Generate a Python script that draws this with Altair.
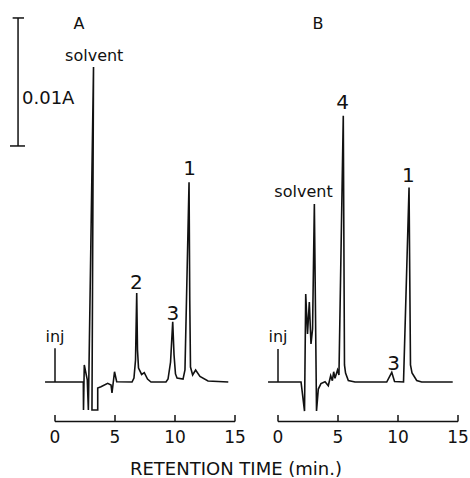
import altair as alt
import pandas as pd

# ---------------- data ----------------
# Chromatogram traces: retention time (min) and absorbance (mAU above baseline)
time_A = [-0.83, 2.36, 2.375, 2.44, 2.69, 2.78, 3.21, 3.08, 3.56, 3.56, 3.83, 4.39,
          4.67, 4.75, 4.96, 5.14, 6.42, 6.58, 6.71, 6.81, 6.875, 6.96, 7.22, 7.44,
          7.71, 8.0, 9.25, 9.42, 9.63, 9.81, 9.92, 10.04, 10.17, 10.67, 10.83, 11.17,
          11.23, 11.29, 11.47, 11.72, 12.08, 12.75, 14.44]
abs_A = [0, 0, -2.19, 1.33, 0.16, -2.19, 24.6, -2.19, -2.19, -0.47, -0.37, -0.10,
         -0.23, -0.86, 0.80, 0.02, 0, 0.31, 1.72, 6.95, 2.5, 1.09, 0.59, 0.73,
         0.23, 0, 0, 0.23, 1.56, 4.71, 2.11, 0.63, 0.31, 0.23, 0.94, 15.6,
         6.4, 1.17, 0.55, 0.94, 0.43, 0.08, 0]

time_B = [-0.83, 1.92, 2.21, 2.31, 2.46, 2.61, 2.75, 2.88, 3.03, 3.21, 3.36, 3.58,
          3.92, 4.19, 4.39, 4.53, 4.64, 4.75, 4.96, 5.08, 5.44, 5.54, 5.63, 5.86,
          6.42, 9.06, 9.48, 9.71, 10.46, 10.92, 11.04, 11.17, 11.56, 11.97, 14.56]
abs_B = [0, 0, -2.27, 6.88, 3.75, 6.25, 2.97, 4.14, 13.9, -2.27, -0.55, -0.12,
         0.02, -0.29, 0.49, 0.10, 0.80, 0.29, 0.94, 0.55, 20.8, 1.33, 0.70, 0.12,
         0, 0, 0.76, 0.04, 0, 15.2, 1.33, 0.70, 0.12, 0, 0]

# Peak number labels
peak_panel = ["A", "A", "A", "B", "B", "B"]
peak_text = ["2", "3", "1", "4", "3", "1"]
peak_time = [6.79, 9.83, 11.21, 5.375, 9.625, 10.86]
peak_abs = [7.27, 4.84, 16.17, 21.33, 0.94, 15.63]

# Solvent labels
solvent_panel = ["A", "B"]
solvent_time = [3.27, 2.125]
solvent_abs = [25.04, 14.45]

# Injection marks
inj_panel = ["A", "B"]
inj_time = [0, 0]
inj_top = [2.63, 2.58]
inj_label_abs = [3.15, 3.1]

# Panel letters
panel_names = ["A", "B"]
panel_letter_time = [2.0, 3.33]
panel_letter_abs = [27.58, 27.58]

# Time axis
tick_values = [0, 5, 10, 15]
axis_abs = -3.09
tick_top_abs = -2.58
tick_label_abs = -4.79
axis_title = "RETENTION TIME (min.)"
axis_title_time = 15.08
axis_title_abs = -7.27

# Absorbance scale bar (0.01 A = 10 mAU)
bar_time = -3.08
bar_low = 18.44
bar_high = 28.44
bar_label = "0.01A"
bar_label_time = -2.75
bar_label_abs = 21.72

# ---------------- layout ----------------
W, H = 470, 478
PX_PER_MIN = 12.0
PX_PER_MAU = 12.8
panel_offset = {"A": 0.0, "B": 223 / PX_PER_MIN}   # panel B drawn to the right of A
x_dom = [-55 / PX_PER_MIN, (W - 55) / PX_PER_MIN]
y_dom = [(382 - H) / PX_PER_MAU, 382 / PX_PER_MAU]

FONT = "DejaVu Sans"
INK = "#111111"

# ---------------- tables ----------------
rows = []
for p, ts, vs in (("A", time_A, abs_A), ("B", time_B, abs_B)):
    for i, (t, v) in enumerate(zip(ts, vs)):
        rows.append({"panel": p, "idx": i, "x": t + panel_offset[p], "v": v})
trace = pd.DataFrame(rows)

rule_rows = []
for p in panel_names:
    off = panel_offset[p]
    rule_rows.append({"x": tick_values[0] + off, "x2": tick_values[-1] + off,
                      "v": axis_abs, "v2": axis_abs})
    for tv in tick_values:
        rule_rows.append({"x": tv + off, "x2": tv + off, "v": axis_abs, "v2": tick_top_abs})
for p, t, top in zip(inj_panel, inj_time, inj_top):
    rule_rows.append({"x": t + panel_offset[p], "x2": t + panel_offset[p], "v": 0, "v2": top})
rule_rows.append({"x": bar_time, "x2": bar_time, "v": bar_low, "v2": bar_high})
rule_rows.append({"x": bar_time - 0.45, "x2": bar_time + 0.5, "v": bar_high, "v2": bar_high})
rule_rows.append({"x": bar_time - 0.67, "x2": bar_time + 0.58, "v": bar_low, "v2": bar_low})
rules = pd.DataFrame(rule_rows)

peaks = pd.DataFrame({"x": [t + panel_offset[p] for p, t in zip(peak_panel, peak_time)],
                      "v": peak_abs, "text": peak_text})
solv = pd.DataFrame({"x": [t + panel_offset[p] for p, t in zip(solvent_panel, solvent_time)],
                     "v": solvent_abs, "text": ["solvent"] * len(solvent_panel)})
inj = pd.DataFrame({"x": [t + panel_offset[p] for p, t in zip(inj_panel, inj_time)],
                    "v": inj_label_abs, "text": ["inj"] * len(inj_panel)})
letters = pd.DataFrame({"x": [t + panel_offset[p] for p, t in zip(panel_names, panel_letter_time)],
                        "v": panel_letter_abs, "text": panel_names})
tick_lab = pd.DataFrame({"x": [tv + panel_offset[p] for p in panel_names for tv in tick_values],
                         "v": tick_label_abs,
                         "text": [str(tv) for p in panel_names for tv in tick_values]})
title_df = pd.DataFrame({"x": [axis_title_time], "v": [axis_title_abs], "text": [axis_title]})
bar_df = pd.DataFrame({"x": [bar_label_time], "v": [bar_label_abs], "text": [bar_label]})

# ---------------- encodings ----------------
xs = alt.Scale(domain=x_dom, nice=False, zero=False)
ys = alt.Scale(domain=y_dom, nice=False, zero=False)
X = alt.X("x:Q", scale=xs, axis=None)
Y = alt.Y("v:Q", scale=ys, axis=None)

line = alt.Chart(trace).mark_line(color=INK, strokeWidth=1.6).encode(
    x=X, y=Y, detail="panel:N", order="idx:Q")

rule = alt.Chart(rules).mark_rule(color=INK, strokeWidth=1.5).encode(
    x=X, x2="x2:Q", y=Y, y2="v2:Q")


def text_layer(df, size, align="center"):
    return alt.Chart(df).mark_text(font=FONT, fontSize=size, color=INK,
                                   align=align, baseline="alphabetic").encode(
        x=X, y=Y, text="text:N")


chart = alt.layer(
    line, rule,
    text_layer(peaks, 20),
    text_layer(solv, 16),
    text_layer(inj, 16),
    text_layer(letters, 16),
    text_layer(tick_lab, 17),
    text_layer(title_df, 18),
    text_layer(bar_df, 18, align="left"),
).properties(
    width=W, height=H, padding=0,
    autosize=alt.AutoSizeParams(type="none"),
    background="white",
).configure_view(stroke=None)

chart.save("out.html", embed_options={"renderer": "svg", "actions": False})
